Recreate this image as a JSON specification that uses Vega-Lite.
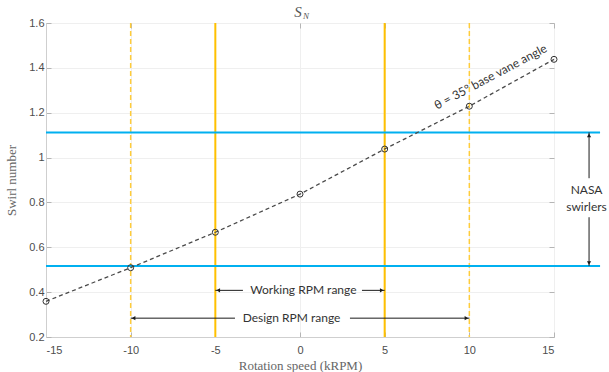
{
  "$schema": "https://vega.github.io/schema/vega-lite/v6.json",
  "width": 508,
  "height": 314,
  "autosize": {"type": "none"},
  "padding": {"left": 46, "top": 23, "right": 55, "bottom": 35},
  "background": "white",
  "config": {
    "view": {"stroke": "#d4d4d4", "strokeWidth": 1},
    "axis": {
      "labelFont": "Liberation Sans",
      "labelFontSize": 11,
      "labelColor": "#4d4d4d",
      "titleFont": "Liberation Serif",
      "titleFontSize": 13,
      "titleFontWeight": "normal",
      "titleColor": "#666666",
      "domainColor": "#cfcfcf",
      "tickColor": "#b5b5b5",
      "tickSize": -5,
      "gridColor": "#efefef"
    }
  },
  "datasets": {
    "curve": [
      {"rpm": -15, "swirl": 0.359},
      {"rpm": -10, "swirl": 0.509},
      {"rpm": -5, "swirl": 0.667},
      {"rpm": 0, "swirl": 0.837},
      {"rpm": 5, "swirl": 1.038},
      {"rpm": 10, "swirl": 1.229},
      {"rpm": 15, "swirl": 1.438}
    ],
    "nasa": [
      {"swirl": 1.112, "from": -15, "to": 17.72},
      {"swirl": 0.517, "from": -15, "to": 17.72}
    ],
    "rpmlines": [
      {"rpm": -10, "kind": "design"},
      {"rpm": -5, "kind": "working"},
      {"rpm": 5, "kind": "working"},
      {"rpm": 10, "kind": "design"}
    ],
    "segments": [
      {"x": -5, "x2": -3.37, "y": 0.408, "y2": 0.408},
      {"x": 3.66, "x2": 5, "y": 0.408, "y2": 0.408},
      {"x": -10, "x2": -3.84, "y": 0.284, "y2": 0.284},
      {"x": 2.95, "x2": 10, "y": 0.284, "y2": 0.284},
      {"x": 17.07, "x2": 17.07, "y": 1.112, "y2": 0.908},
      {"x": 17.07, "x2": 17.07, "y": 0.734, "y2": 0.517}
    ],
    "heads": [
      {"x": -4.83, "y": 0.408, "dir": "left"},
      {"x": 4.83, "y": 0.408, "dir": "right"},
      {"x": -9.83, "y": 0.284, "dir": "left"},
      {"x": 9.83, "y": 0.284, "dir": "right"},
      {"x": 17.07, "y": 1.099, "dir": "up"},
      {"x": 17.07, "y": 0.530, "dir": "down"}
    ],
    "labels": [
      {"x": 0.2, "y": 0.408, "text": "Working RPM range"},
      {"x": -0.5, "y": 0.284, "text": "Design RPM range"},
      {"x": 16.92, "y": 0.854, "text": "NASA"},
      {"x": 16.92, "y": 0.779, "text": "swirlers"}
    ],
    "curvelabel": [
      {"x": 11.25, "y": 1.36, "text": "θ = 35° base vane angle"}
    ],
    "title": [{"x": 0, "y": 1.6}]
  },
  "resolve": {"axis": {"x": "independent", "y": "independent"}},
  "layer": [
    {
      "data": {"name": "curve"},
      "mark": {"type": "point", "opacity": 0},
      "encoding": {
        "x": {
          "field": "rpm", "type": "quantitative",
          "scale": {"domain": [-15, 15], "nice": false, "zero": false},
          "axis": {
            "values": [-15, -10, -5, 0, 5, 10, 15],
            "labelExpr": "datum.value + ''",
            "title": "Rotation speed (kRPM)",
            "labelPadding": 12,
            "titlePadding": 4,
            "grid": true
          }
        },
        "y": {
          "field": "swirl", "type": "quantitative",
          "scale": {"domain": [0.2, 1.6], "nice": false, "zero": false},
          "axis": {
            "values": [0.2, 0.4, 0.6, 0.8, 1, 1.2, 1.4, 1.6],
            "format": "~g",
            "title": "Swirl number",
            "labelPadding": 7,
            "titlePadding": 10,
            "grid": true
          }
        }
      }
    },
    {
      "data": {"name": "curve"},
      "mark": {"type": "point", "opacity": 0},
      "encoding": {
        "x": {
          "field": "rpm", "type": "quantitative",
          "axis": {"orient": "top", "values": [-15, -10, -5, 0, 5, 10, 15], "labels": false, "title": null, "grid": false, "domain": false}
        },
        "y": {
          "field": "swirl", "type": "quantitative",
          "axis": {"orient": "right", "values": [0.2, 0.4, 0.6, 0.8, 1, 1.2, 1.4, 1.6], "labels": false, "title": null, "grid": false, "domain": false}
        }
      }
    },
    {
      "data": {"name": "rpmlines"},
      "mark": {"type": "rule"},
      "encoding": {
        "x": {"field": "rpm", "type": "quantitative", "axis": null},
        "color": {"field": "kind", "type": "nominal", "scale": {"domain": ["design", "working"], "range": ["#ffcc3a", "#ffc000"]}, "legend": null},
        "strokeDash": {"field": "kind", "type": "nominal", "scale": {"domain": ["design", "working"], "range": [[5, 3], [1, 0]]}, "legend": null},
        "strokeWidth": {"field": "kind", "type": "nominal", "scale": {"domain": ["design", "working"], "range": [1.5, 2]}, "legend": null}
      }
    },
    {
      "data": {"name": "nasa"},
      "mark": {"type": "rule", "color": "#00b0f0", "strokeWidth": 2, "clip": false},
      "encoding": {
        "x": {"field": "from", "type": "quantitative", "axis": null},
        "x2": {"field": "to"},
        "y": {"field": "swirl", "type": "quantitative", "axis": null}
      }
    },
    {
      "data": {"name": "curve"},
      "mark": {"type": "line", "color": "#4a4a4a", "strokeWidth": 1.3, "strokeDash": [4, 3]},
      "encoding": {
        "x": {"field": "rpm", "type": "quantitative", "axis": null},
        "y": {"field": "swirl", "type": "quantitative", "axis": null}
      }
    },
    {
      "data": {"name": "curve"},
      "mark": {"type": "point", "shape": "circle", "filled": false, "color": "#333333", "size": 36, "strokeWidth": 1, "opacity": 1},
      "encoding": {
        "x": {"field": "rpm", "type": "quantitative", "axis": null},
        "y": {"field": "swirl", "type": "quantitative", "axis": null}
      }
    },
    {
      "data": {"name": "segments"},
      "mark": {"type": "rule", "color": "#1a1a1a", "strokeWidth": 1, "clip": false},
      "encoding": {
        "x": {"field": "x", "type": "quantitative", "axis": null},
        "x2": {"field": "x2"},
        "y": {"field": "y", "type": "quantitative", "axis": null},
        "y2": {"field": "y2"}
      }
    },
    {
      "data": {"name": "heads"},
      "mark": {"type": "point", "filled": true, "color": "#1a1a1a", "size": 18, "opacity": 1, "clip": false},
      "encoding": {
        "x": {"field": "x", "type": "quantitative", "axis": null},
        "y": {"field": "y", "type": "quantitative", "axis": null},
        "shape": {"field": "dir", "type": "nominal", "scale": {"domain": ["left", "right", "up", "down"], "range": ["triangle-left", "triangle-right", "triangle-up", "triangle-down"]}, "legend": null}
      }
    },
    {
      "data": {"name": "labels"},
      "mark": {"type": "text", "font": "Lato", "fontSize": 12, "color": "#333333", "align": "center", "baseline": "middle", "clip": false},
      "encoding": {
        "x": {"field": "x", "type": "quantitative", "axis": null},
        "y": {"field": "y", "type": "quantitative", "axis": null},
        "text": {"field": "text"}
      }
    },
    {
      "data": {"name": "curvelabel"},
      "mark": {"type": "text", "font": "Lato", "fontSize": 12, "color": "#333333", "align": "center", "baseline": "middle", "angle": -28},
      "encoding": {
        "x": {"field": "x", "type": "quantitative", "axis": null},
        "y": {"field": "y", "type": "quantitative", "axis": null},
        "text": {"field": "text"}
      }
    },
    {
      "data": {"name": "title"},
      "mark": {"type": "text", "font": "Liberation Serif", "fontStyle": "italic", "fontSize": 15, "color": "#555555", "align": "center", "baseline": "middle", "dx": -2, "dy": -11, "clip": false},
      "encoding": {
        "x": {"field": "x", "type": "quantitative", "axis": null},
        "y": {"field": "y", "type": "quantitative", "axis": null},
        "text": {"value": "S"}
      }
    },
    {
      "data": {"name": "title"},
      "mark": {"type": "text", "font": "Liberation Serif", "fontStyle": "italic", "fontSize": 9, "color": "#555555", "align": "left", "baseline": "middle", "dx": 3, "dy": -7, "clip": false},
      "encoding": {
        "x": {"field": "x", "type": "quantitative", "axis": null},
        "y": {"field": "y", "type": "quantitative", "axis": null},
        "text": {"value": "N"}
      }
    }
  ]
}
